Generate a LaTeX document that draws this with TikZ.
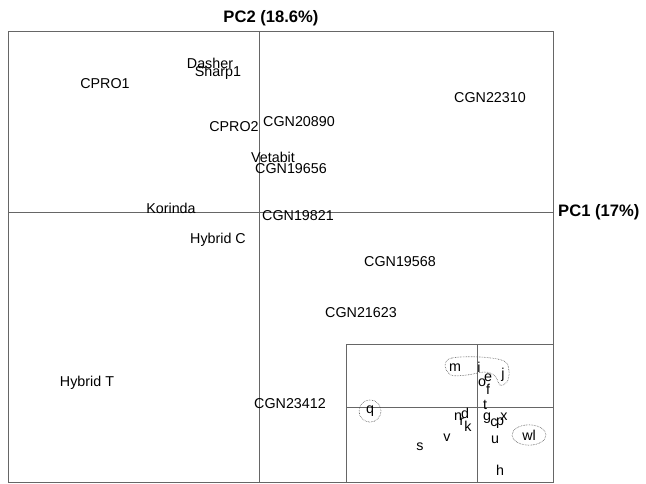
\documentclass[tikz,border=0pt]{standalone}
\usepackage{fontspec}
\setmainfont{Liberation Sans}
\usepackage{tikz}
\usetikzlibrary{shapes.geometric,positioning}
\tikzset{
	lab/.style={inner sep=0pt,font=\fontsize{14.3}{16}\selectfont},
	axlab/.style={inner sep=0pt,font=\fontsize{16.6}{18}\selectfont\bfseries},
	frame/.style={draw=black!60,line width=0.8pt},
	ring/.style={draw=black!70,densely dotted,line width=0.6pt}
}

\begin{document}
\begin{tikzpicture}[x=1pt,y=-1pt]
	\useasboundingbox (0,0) rectangle (646,484);
	
	\def\xO{8};
	\def\xE{553};
	\def\yO{31};
	\def\yE{482};
	\def\xA{259};
	\def\yA{212};
	
	%Cadre principal
	\coordinate (NW) at (\xO,\yO);
	\coordinate (SE) at (\xE,\yE);
	\draw[frame] (NW) rectangle (SE);
	
	%Axes
	\coordinate (top) at (\xA,\yO);
	\coordinate (bot) at (\xA,\yE);
	\coordinate (lft) at (\xO,\yA);
	\coordinate (rgt) at (\xE,\yA);
	\draw[frame] (top) -- (bot);
	\draw[frame] (lft) -- (rgt);
	\node[axlab,above=5pt of top,xshift=12pt] (pc2) {PC2 (18.6\%)};
	\node[axlab,right=5pt of rgt,anchor=west] (pc1) {PC1 (17\%)};
	
	%Cultivars
	\node[lab] (dasher) at (210,63) {Dasher};
	\node[lab] (sharp) at (218,73) {Sharp1};
	\node[lab] (cpro1) at (105,84) {CPRO1};
	\node[lab] (cpro2) at (234,127) {CPRO2};
	\node[lab] (c20890) at (299,122) {CGN20890};
	\node[lab] (c22310) at (490,98) {CGN22310};
	\node[lab] (vetabit) at (273,157) {Vetabit};
	\node[lab] (c19656) at (291,169) {CGN19656};
	\node[lab] (korinda) at (171,208) {Korinda};
	\node[lab] (c19821) at (298,216) {CGN19821};
	\node[lab] (hybc) at (218,240) {Hybrid C};
	\node[lab] (c19568) at (400,262) {CGN19568};
	\node[lab] (c21623) at (361,313) {CGN21623};
	\node[lab] (hybt) at (87,383) {Hybrid T};
	\node[lab] (c23412) at (290,404) {CGN23412};
	
	%Encadre (zoom)
	\def\xI{346};
	\def\yI{344};
	\def\xB{477};
	\def\yB{407};
	\coordinate (iNW) at (\xI,\yI);
	\draw[frame] (iNW) rectangle (SE);
	\coordinate (itop) at (\xB,\yI);
	\coordinate (ibot) at (\xB,\yE);
	\coordinate (ilft) at (\xI,\yB);
	\coordinate (irgt) at (\xE,\yB);
	\draw[frame] (itop) -- (ibot);
	\draw[frame] (ilft) -- (irgt);
	
	%Lettres
	\node[lab] (m) at (455,368) {m};
	\node[lab] (i) at (479,367) {i};
	\node[lab] (j) at (503,375) {j};
	\node[lab] (e) at (488,378) {e};
	\node[lab] (o) at (482,383) {o};
	\node[lab] (f) at (488,389) {f};
	\node[lab] (t) at (485,405) {t};
	\node[lab,ring,ellipse,inner sep=2.5pt,minimum width=22pt,minimum height=19pt] (q) at (370,411) {q};
	\node[lab] (n) at (458,417) {n};
	\node[lab] (d) at (465,413) {d};
	\node[lab] (r) at (462,422) {r};
	\node[lab] (k) at (468,426) {k};
	\node[lab] (g) at (487,418) {g};
	\node[lab] (c) at (494,423) {c};
	\node[lab] (p) at (500,423) {p};
	\node[lab] (x) at (504,417) {x};
	\node[lab,ring,ellipse,inner sep=2pt,minimum width=34pt,minimum height=19pt] (wl) at (529,435) {wl};
	\node[lab] (u) at (495,440) {u};
	\node[lab] (v) at (447,438) {v};
	\node[lab] (s) at (420,447) {s};
	\node[lab] (h) at (500,470) {h};
	
	%Groupe m-i-j
	\draw[ring] plot[smooth cycle,tension=0.6] coordinates {(445,365) (452,358) (480,357) (504,361) (509,371) (507,382) (500,385) (495,376) (485,372) (467,375) (451,375)};
	
\end{tikzpicture}
\end{document}
